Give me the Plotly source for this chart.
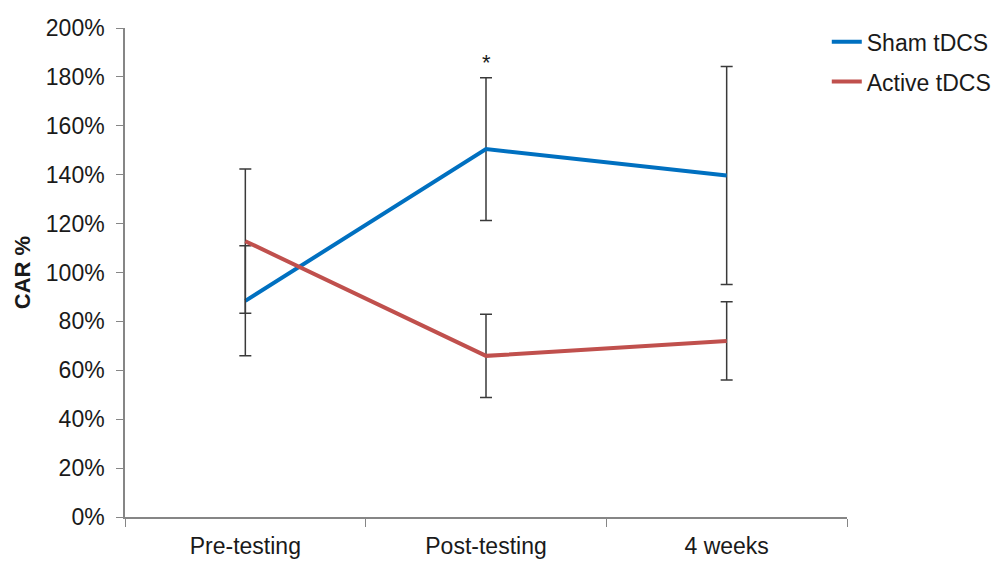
import plotly.graph_objects as go

categories = ["Pre-testing", "Post-testing", "4 weeks"]
sham = [88.4, 150.5, 139.7]
sham_err = [22.5, 29.2, 44.6]
active = [112.8, 65.9, 72.0]
active_err = [29.5, 17.0, 16.0]
y_ticks = [0, 20, 40, 60, 80, 100, 120, 140, 160, 180, 200]
y_tick_labels = [f"{v}%" for v in y_ticks]

FONT = "Liberation Sans, Arial, sans-serif"
TXT = "#1a1a1a"

fig = go.Figure()
fig.add_trace(go.Scatter(
    x=categories, y=sham, name="Sham tDCS", mode="lines",
    line=dict(color="#0070C0", width=4),
    legendgroup="a",
    error_y=dict(type="data", array=sham_err, visible=True,
                 color="#3a3a3a", thickness=1.5, width=6),
))
fig.add_trace(go.Scatter(
    x=categories, y=active, name="Active tDCS", mode="lines",
    line=dict(color="#C0504D", width=4),
    legendgroup="b",
    error_y=dict(type="data", array=active_err, visible=True,
                 color="#3a3a3a", thickness=1.5, width=6),
))

fig.add_annotation(x="Post-testing", y=sham[1] + sham_err[1], text="*",
                   showarrow=False, yanchor="bottom", yshift=1,
                   font=dict(size=22, color=TXT, family=FONT))

# the page body has an 8px default margin, so margins are offset by 8px
fig.update_layout(
    width=1000, height=561,
    margin=dict(l=117, r=160, t=17, b=52),
    paper_bgcolor="white", plot_bgcolor="white",
    font=dict(family=FONT, size=23, color=TXT),
    showlegend=True,
    legend=dict(x=0.972, y=1.016, xanchor="left", yanchor="top",
                font=dict(size=23), tracegroupgap=7,
                bgcolor="rgba(0,0,0,0)"),
    xaxis=dict(
        type="category", range=[-0.5, 2.5], tickson="boundaries",
        ticks="outside", ticklen=8, tickcolor="#868686",
        showline=True, linecolor="#868686", linewidth=1.5,
        showgrid=False, zeroline=False, tickfont=dict(size=23),
        ticklabelstandoff=8, automargin=False,
    ),
    yaxis=dict(
        range=[0, 200], tickvals=y_ticks, ticktext=y_tick_labels,
        ticks="outside", ticklen=7, tickcolor="#868686",
        showline=True, linecolor="#868686", linewidth=1.5,
        showgrid=False, zeroline=False, tickfont=dict(size=23),
        ticklabelstandoff=7,
        title=dict(text="<b>CAR %</b>", font=dict(size=22), standoff=9),
        automargin=False,
    ),
)

fig.write_html("out.html")
